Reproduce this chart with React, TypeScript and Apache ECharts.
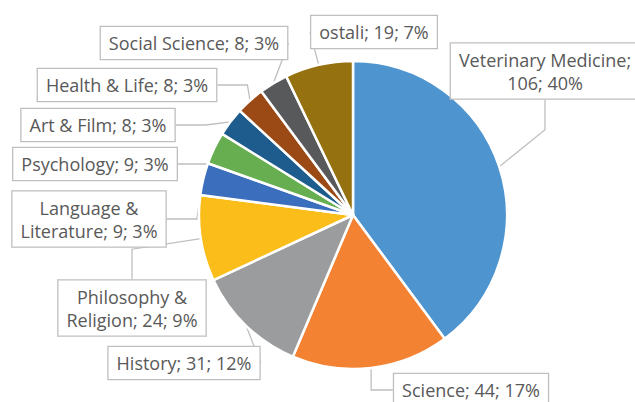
import React, { useEffect, useRef } from "react";
import * as echarts from "echarts";

const categories = [
  "Veterinary Medicine",
  "Science",
  "History",
  "Philosophy & Religion",
  "Language & Literature",
  "Psychology",
  "Art & Film",
  "Health & Life",
  "Social Science",
  "ostali",
];
const values = [106, 44, 31, 24, 9, 9, 8, 8, 8, 19];
const colors = [
  "#4E95D0",
  "#F38233",
  "#9A9C9D",
  "#FBBD1A",
  "#3B6EBD",
  "#66AE50",
  "#1D5C8D",
  "#9B4A15",
  "#58595B",
  "#95710F",
];
const labelCenters: [number, number][] = [
  [545, 71],
  [471, 390],
  [184, 363],
  [132, 308],
  [89, 219],
  [95, 164],
  [98, 125],
  [127, 85],
  [194, 43],
  [374, 32],
];

function labelText(name: string, value: number, pct: number): string {
  const p = Math.round(pct);
  if (name === "Veterinary Medicine") return `Veterinary Medicine;\n${value}; ${p}%`;
  if (name === "Philosophy & Religion") return `Philosophy &\nReligion; ${value}; ${p}%`;
  if (name === "Language & Literature") return `Language &\nLiterature; ${value}; ${p}%`;
  return `${name}; ${value}; ${p}%`;
}

export default function App() {
  const ref = useRef<HTMLDivElement>(null);
  useEffect(() => {
    if (!ref.current) return;
    const chart = echarts.init(ref.current, undefined, { renderer: "svg" });
    chart.setOption({
      animation: false,
      backgroundColor: "#ffffff",
      series: [
        {
          type: "pie",
          center: [353, 215],
          radius: 154,
          startAngle: 90,
          clockwise: true,
          avoidLabelOverlap: false,
          data: categories.map((c, i) => ({
            name: c,
            value: values[i],
            itemStyle: { color: colors[i] },
          })),
          itemStyle: { borderColor: "#ffffff", borderWidth: 2.5 },
          label: {
            show: true,
            formatter: (p: any) => labelText(p.name, p.value, p.percent),
            fontFamily: "Open Sans",
            fontSize: 18,
            color: "#595959",
            lineHeight: 23,
            backgroundColor: "#ffffff",
            borderColor: "#BFBFBF",
            borderWidth: 1.3,
            padding: [5, 8, 4, 8],
            align: "center",
          },
          labelLine: {
            show: true,
            lineStyle: { color: "#BFBFBF", width: 1.3 },
          },
          labelLayout: (params: any) => {
            const c = labelCenters[params.dataIndex];
            return { x: c[0], y: c[1], align: "center", verticalAlign: "middle" };
          },
        },
      ],
    });
    return () => chart.dispose();
  }, []);
  return (
    <div
      ref={ref}
      style={{ position: "fixed", left: 0, top: 0, width: 635, height: 402 }}
    />
  );
}
